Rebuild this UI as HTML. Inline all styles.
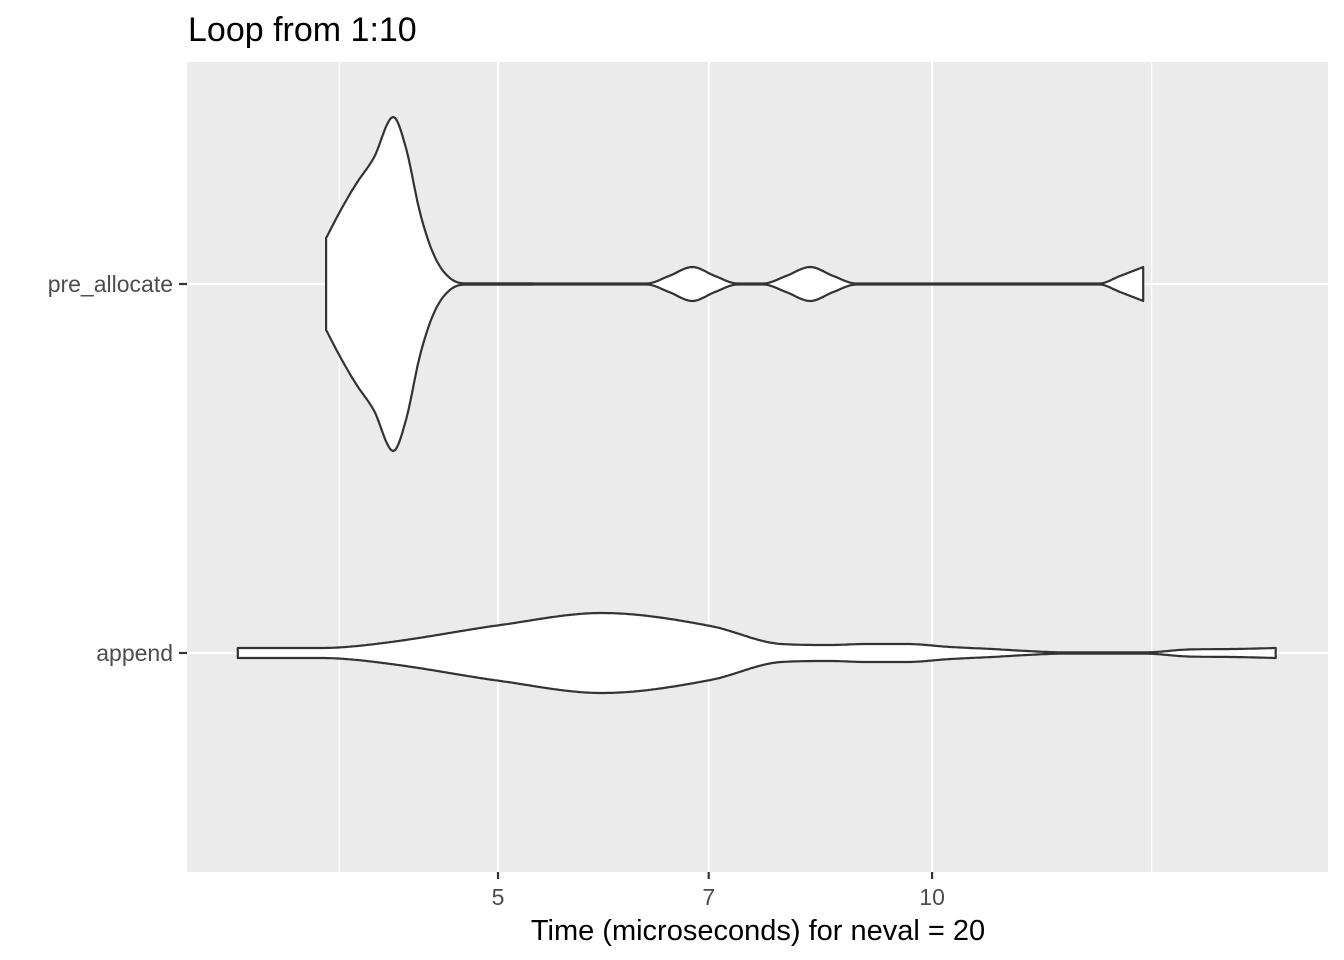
<!DOCTYPE html>
<html><head><meta charset="utf-8"><style>
body{margin:0;background:#fff;}
svg{display:block;font-family:"Liberation Sans",sans-serif;}
</style></head><body>
<svg width="1344" height="960">
<text x="188" y="41" font-size="34" fill="#000">Loop from 1:10</text>
<rect x="187" y="62" width="1141" height="810" fill="#ebebeb"/>
<g id="grid"></g>
<g id="violins"></g>
<g id="axes"></g>
<text x="758" y="940" font-size="29" text-anchor="middle" fill="#000">Time (microseconds) for neval = 20</text>
</svg>
<script>
const categories = ["pre_allocate","append"];
const xTicks = [5,7,10];
const xMinor = [3.88,14.2];
const preTimes = [3.80,3.89,3.99,4.10,4.23,4.32,4.41,4.49,4.56,4.65,4.74,6.34,6.57,6.82,7.07,7.33,7.64,7.92,8.23,8.54,8.86,13.06,13.50,14.01];
const preDensity = [46,74,101,126,167,134,74,37,17,4,0.7,0.5,8,17,8,0.5,0.5,8,17,8,0.5,0.5,8,17];
const appTimes = [3.30,3.77,3.92,4.24,5.02,5.90,7.02,7.86,8.50,8.99,9.60,10.30,11.00,11.64,12.30,14.07,15.05,16.20,17.31];
const appDensity = [5,5,6,11.5,28,40,27,9,8,9,9,6,4,2,0.7,0.7,3.5,4,5];

const NS="http://www.w3.org/2000/svg";
function xs(v){return 498+1442*(Math.log10(v)-Math.log10(5));}
function ys(i){return [284,653][i];}
function ws(d){return d;}
function mk(tag,attrs,parent){const e=document.createElementNS(NS,tag);for(const k in attrs)e.setAttribute(k,attrs[k]);parent.appendChild(e);return e;}
const grid=document.getElementById('grid'),vg=document.getElementById('violins'),ax=document.getElementById('axes');
xMinor.forEach(v=>{const l=mk('line',{x1:xs(v),x2:xs(v),y1:62,y2:872,stroke:'#fff','stroke-width':1.1},grid);

});
xTicks.forEach(v=>{const l=mk('line',{x1:xs(v),x2:xs(v),y1:62,y2:872,stroke:'#fff','stroke-width':2.2},grid);


const t=mk('line',{x1:xs(v),x2:xs(v),y1:872,y2:879,stroke:'#333','stroke-width':2.2},ax);


const tx=mk('text',{x:xs(v),y:905,'font-size':23,'text-anchor':'middle',fill:'#4d4d4d'},ax);tx.textContent=v;

});
categories.forEach((c,i)=>{const l=mk('line',{x1:187,x2:1328,y1:ys(i),y2:ys(i),stroke:'#fff','stroke-width':2.2},grid);


const t=mk('line',{x1:179,x2:187,y1:ys(i),y2:ys(i),stroke:'#333','stroke-width':2.2},ax);


const tx=mk('text',{x:173,y:ys(i)+8,'font-size':23,'text-anchor':'end',fill:'#4d4d4d'},ax);tx.textContent=c;

});
function monotone(X,Y){const n=X.length,d=[],m=[];
for(let i=0;i<n-1;i++)d.push((Y[i+1]-Y[i])/(X[i+1]-X[i]));
m[0]=d[0];m[n-1]=d[n-2];
for(let i=1;i<n-1;i++){m[i]=(d[i-1]*d[i]<=0)?0:(d[i-1]+d[i])/2;}
for(let i=0;i<n-1;i++){if(d[i]===0){m[i]=0;m[i+1]=0;continue;}const a=m[i]/d[i],b=m[i+1]/d[i],s=a*a+b*b;if(s>9){const t=3/Math.sqrt(s);m[i]=t*a*d[i];m[i+1]=t*b*d[i];}}
const out=[];
for(let i=0;i<n-1;i++){const h=X[i+1]-X[i];const steps=Math.max(2,Math.ceil(h/2));
for(let k=0;k<steps;k++){const t=k/steps,t2=t*t,t3=t2*t;
const y=(2*t3-3*t2+1)*Y[i]+(t3-2*t2+t)*h*m[i]+(-2*t3+3*t2)*Y[i+1]+(t3-t2)*h*m[i+1];
out.push([X[i]+t*h,Math.max(0.5,y)]);}}
out.push([X[n-1],Y[n-1]]);return out;}
function violin(times,dens,i,name){const cy=ys(i);
const pts=monotone(times.map(xs),dens.map(ws));
const top=pts.map(p=>[p[0],cy-p[1]]);
const bot=pts.map(p=>[p[0],cy+p[1]]).reverse();
const d='M'+top.concat(bot).map(p=>p[0].toFixed(1)+','+p[1].toFixed(1)).join(' L')+' Z';
const p=mk('path',{d:d,fill:'#fff',stroke:'#333','stroke-width':2.2,'stroke-linejoin':'round'},vg);

}
violin(preTimes,preDensity,0,'violin-pre-allocate');
violin(appTimes,appDensity,1,'violin-append');
</script>
</body></html>
